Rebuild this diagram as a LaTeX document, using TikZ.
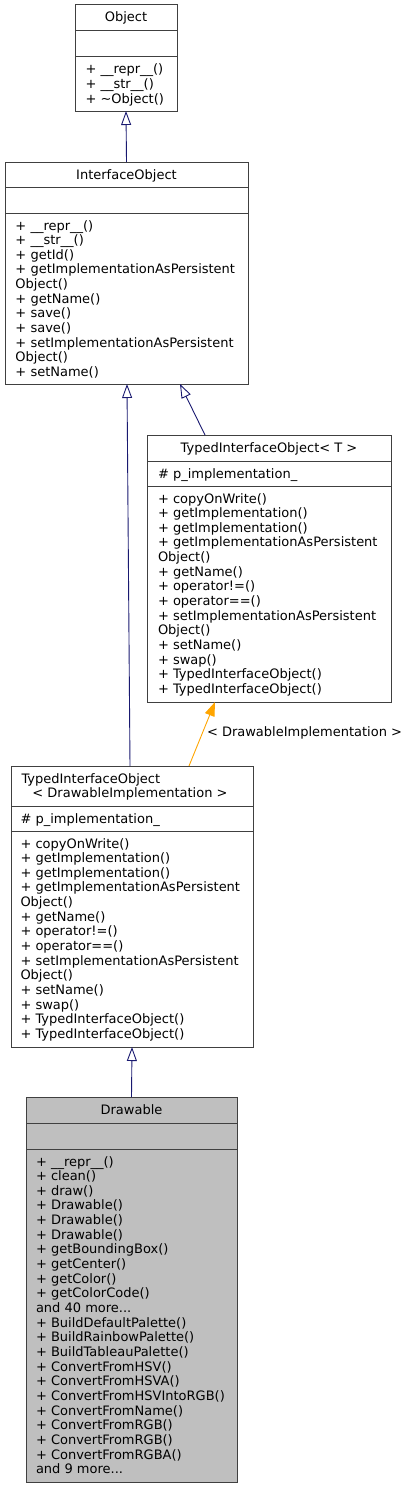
\documentclass[tikz,border=0pt]{standalone}
\usepackage{fontspec}
\setmainfont{DejaVu Sans}
\usetikzlibrary{arrows.meta,calc}
\definecolor{edgeblue}{HTML}{191970}
\definecolor{tplorange}{HTML}{FFA500}
\definecolor{curgray}{HTML}{BFBFBF}
\definecolor{boxline}{HTML}{404040}
\newcommand{\tdots}{...}
\newcommand{\classlines}[3]{%
  \foreach \t [count=\i from 0] in {#3} {%
    \node[txt, anchor=base west] at (#1,{#2+14.65*\i}) {\t};
  }%
}
\begin{document}
\begin{tikzpicture}[x=1pt,y=-1pt,
  classbox/.style={draw=boxline, line width=1pt, fill=white, anchor=north west, inner sep=0pt, outer sep=0pt},
  divider/.style={draw=boxline, line width=1pt},
  txt/.style={inner sep=0pt, outer sep=0pt, font=\fontsize{13}{14.65}\selectfont},
  inh/.style={draw=edgeblue, line width=0.9pt, -{Triangle[open, length=14pt, width=10pt, line width=0.9pt]}},
  tmpl/.style={draw=tplorange, line width=0.9pt, -{Triangle[length=14pt, width=10pt]}}
]
\useasboundingbox (0,0) rectangle (411,1488);

% ---------- Object ----------
\node[classbox, minimum width=102pt, minimum height=106pt] (obj) at (75,5) {};
\draw[divider] (75,31) -- (177,31);
\draw[divider] (75,57) -- (177,57);
\node[txt, anchor=base] (objt) at (126,22) {Object};
\classlines{85.5}{74}{+ \_\_repr\_\_(), + \_\_str\_\_(), + \textasciitilde Object()}

% ---------- InterfaceObject ----------
\node[classbox, minimum width=243pt, minimum height=222pt] (io) at (5,162) {};
\draw[divider] (5,187) -- (248,187);
\draw[divider] (5,213) -- (248,213);
\node[txt, anchor=base] (iot) at (126.5,179) {InterfaceObject};
\classlines{15.5}{230}{+ \_\_repr\_\_(), + \_\_str\_\_(), + getId(), + getImplementationAsPersistent, Object(), + getName(), + save(), + save(), + setImplementationAsPersistent, Object(), + setName()}

% ---------- TypedInterfaceObject< T > ----------
\node[classbox, minimum width=244pt, minimum height=267pt] (tiot) at (147,435) {};
\draw[divider] (147,461) -- (391,461);
\draw[divider] (147,486) -- (391,486);
\node[txt, anchor=base] (tiott) at (269,452) {TypedInterfaceObject< T >};
\node[txt, anchor=base west] (tiota) at (158,478) {\# p\_implementation\_};
\classlines{158}{503}{+ copyOnWrite(), + getImplementation(), + getImplementation(), + getImplementationAsPersistent, Object(), + getName(), + operator!=(), + operator==(), + setImplementationAsPersistent, Object(), + setName(), + swap(), + TypedInterfaceObject(), + TypedInterfaceObject()}

% ---------- TypedInterfaceObject< DrawableImplementation > ----------
\node[classbox, minimum width=242pt, minimum height=281pt] (tiodi) at (11,766) {};
\draw[divider] (11,806) -- (253,806);
\draw[divider] (11,831) -- (253,831);
\node[txt, anchor=base west] (tiodit1) at (21.5,783) {TypedInterfaceObject};
\node[txt, anchor=base] (tiodit2) at (130,797.6) {< DrawableImplementation >};
\node[txt, anchor=base west] (tiodia) at (20.5,823) {\# p\_implementation\_};
\classlines{20.5}{848}{+ copyOnWrite(), + getImplementation(), + getImplementation(), + getImplementationAsPersistent, Object(), + getName(), + operator!=(), + operator==(), + setImplementationAsPersistent, Object(), + setName(), + swap(), + TypedInterfaceObject(), + TypedInterfaceObject()}

% ---------- Drawable ----------
\node[classbox, fill=curgray, minimum width=211pt, minimum height=385pt] (drw) at (26,1097) {};
\draw[divider] (26,1123) -- (237,1123);
\draw[divider] (26,1149) -- (237,1149);
\node[txt, anchor=base] (drwt) at (131.5,1114) {Drawable};
\classlines{36}{1166}{+ \_\_repr\_\_(), + clean(), + draw(), + Drawable(), + Drawable(), + Drawable(), + getBoundingBox(), + getCenter(), + getColor(), + getColorCode(), and 40 more\tdots, + BuildDefaultPalette(), + BuildRainbowPalette(), + BuildTableauPalette(), + ConvertFromHSV(), + ConvertFromHSVA(), + ConvertFromHSVIntoRGB(), + ConvertFromName(), + ConvertFromRGB(), + ConvertFromRGB(), + ConvertFromRGBA(), and 9 more\tdots}

% ---------- Edges ----------
\draw[inh] (io.north) -- (obj.south);
\draw[inh] ($(tiot.north west)+(58,0)$) -- ($(io.south west)+(175,0)$);
\draw[inh] ($(tiodi.north west)+(119,0)$) -- ($(io.south west)+(122,0)$);
\draw[tmpl] ($(tiodi.north west)+(178,0)$) -- ($(tiot.south west)+(68,0)$);
\node[txt, anchor=base west] (lbl) at (207,736) {< DrawableImplementation >};
\draw[inh] (drw.north) -- (tiodi.south);
\end{tikzpicture}
\end{document}
